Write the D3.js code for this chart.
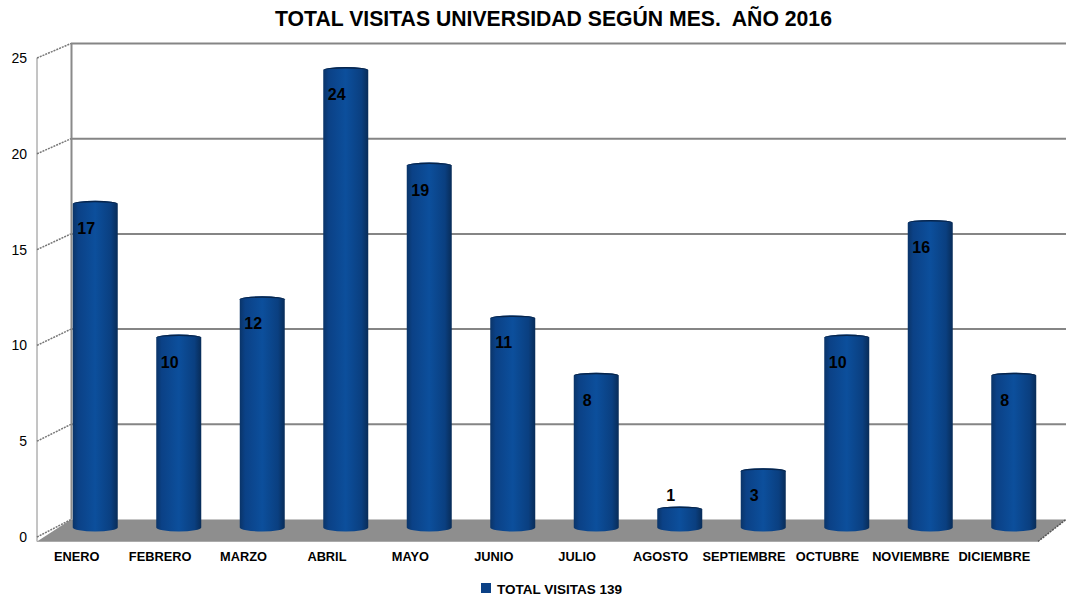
<!DOCTYPE html>
<html>
<head>
<meta charset="utf-8">
<script src="https://cdn.jsdelivr.net/npm/d3@7"></script>
<style>
  html, body { margin: 0; padding: 0; background: #fff; }
  svg { display: block; }
  text { font-family: "Liberation Sans", Arial, sans-serif; fill: #000; }
</style>
</head>
<body>
<div id="chart"></div>
<script>
var months = ["ENERO", "FEBRERO", "MARZO", "ABRIL", "MAYO", "JUNIO", "JULIO", "AGOSTO", "SEPTIEMBRE", "OCTUBRE", "NOVIEMBRE", "DICIEMBRE"];
var visitas = [17, 10, 12, 24, 19, 11, 8, 1, 3, 10, 16, 8];
var yTicks = [0, 5, 10, 15, 20, 25];
var titleText = "TOTAL VISITAS UNIVERSIDAD SEGÚN MES.  AÑO 2016";
var legendText = "TOTAL VISITAS 139";

var width = 1066;
var height = 600;

var svg = d3.select("#chart").append("svg")
    .attr("width", width)
    .attr("height", height);

// back wall, front edge and the bars each sit on their own plane
var yBack = d3.scaleLinear().domain([0, 25]).range([519.5, 43.5]);
var yFront = d3.scaleLinear().domain([0, 25]).range([537, 58]);
var yBar = d3.scaleLinear().domain([0, 25]).range([527.5, 50]);

var xBar = d3.scaleBand().domain(months).range([53.5, 1055.5]);
var xLabel = d3.scaleBand().domain(months).range([35, 1036]);

var grad = svg.append("defs").append("linearGradient")
    .attr("id", "cyl")
    .attr("x1", "0").attr("x2", "1").attr("y1", "0").attr("y2", "0");
grad.append("stop").attr("offset", "0").attr("stop-color", "#0a3468");
grad.append("stop").attr("offset", "0.12").attr("stop-color", "#0b4186");
grad.append("stop").attr("offset", "0.5").attr("stop-color", "#0c4f9c");
grad.append("stop").attr("offset", "0.85").attr("stop-color", "#0a3f80");
grad.append("stop").attr("offset", "1").attr("stop-color", "#082c58");

// floor
svg.append("polygon")
    .attr("points", [[37, 541.5], [71, 519.5], [1066, 519.5], [1038, 541.5]].join(" "))
    .style("fill", "#8e8e8e");

// grid on back wall
svg.selectAll(".grid")
    .data(yTicks.filter(function(d) { return d > 0; }))
    .enter().append("line")
    .attr("class", "grid")
    .attr("x1", 71).attr("x2", width)
    .attr("y1", function(d) { return yBack(d); })
    .attr("y2", function(d) { return yBack(d); })
    .style("stroke", "#858585")
    .style("stroke-width", 2);

// back wall left edge
svg.append("line")
    .attr("x1", 71.5).attr("x2", 71.5)
    .attr("y1", yBack(25)).attr("y2", yBack(0))
    .style("stroke", "#8a8a8a")
    .style("stroke-width", 2);

// front axis line
svg.append("line")
    .attr("x1", 37).attr("x2", 37)
    .attr("y1", yFront(25)).attr("y2", 541.5)
    .style("stroke", "#8a8a8a")
    .style("stroke-width", 1);

// diagonal ticks
svg.selectAll(".diag")
    .data(yTicks)
    .enter().append("line")
    .attr("class", "diag")
    .attr("x1", 37).attr("x2", 71)
    .attr("y1", function(d) { return yFront(d); })
    .attr("y2", function(d) { return yBack(d); })
    .style("stroke", "#777")
    .style("stroke-width", 1.5)
    .style("stroke-dasharray", "2,1");

svg.append("line")
    .attr("x1", 1038).attr("x2", 1066)
    .attr("y1", 541.5).attr("y2", 519.5)
    .style("stroke", "#555")
    .style("stroke-width", 1.5)
    .style("stroke-dasharray", "2,1");

svg.append("line")
    .attr("x1", 37).attr("x2", 1038)
    .attr("y1", 541.5).attr("y2", 541.5)
    .style("stroke", "#aaa")
    .style("stroke-width", 1);

// y labels
svg.selectAll(".ytick")
    .data(yTicks)
    .enter().append("text")
    .attr("class", "ytick")
    .attr("x", 27)
    .attr("y", function(d) { return yFront(d) + 5; })
    .attr("text-anchor", "end")
    .attr("font-size", "14px")
    .text(function(d) { return d; });

// cylinders
var capRy = 3;
var bw = 45;
var bars = svg.selectAll(".bar")
    .data(visitas)
    .enter().append("g")
    .attr("class", "bar")
    .attr("transform", function(d, i) {
        return "translate(" + (xBar(months[i]) + xBar.bandwidth() / 2 - bw / 2) + ",0)";
    });

bars.append("path")
    .attr("d", function(d) {
        var top = yBar(d);
        var base = yBar(0);
        return "M0," + (top + 1) +
            "A" + (bw / 2) + "," + capRy + " 0 0 1 " + bw + "," + (top + 1) +
            "L" + bw + "," + base +
            "A" + (bw / 2) + "," + (capRy + 1) + " 0 0 1 0," + base + "Z";
    })
    .style("fill", "url(#cyl)");

// dark top cap
bars.append("path")
    .attr("d", function(d) {
        var top = yBar(d) + 1;
        return "M0," + top +
            "A" + (bw / 2) + "," + capRy + " 0 0 1 " + bw + "," + top +
            "A" + (bw / 2) + "," + (capRy - 1.5) + " 0 0 0 0," + top + "Z";
    })
    .style("fill", "#07244a");

// value labels
bars.append("text")
    .attr("x", bw / 2 - 9)
    .attr("y", function(d) { return d < 2 ? yBar(d) - 7 : yBar(d) + 31; })
    .attr("text-anchor", "middle")
    .attr("font-size", "16px")
    .attr("font-weight", "bold")
    .text(function(d) { return d; });

// month labels
svg.selectAll(".xlab")
    .data(months)
    .enter().append("text")
    .attr("class", "xlab")
    .attr("x", function(d) { return xLabel(d) + xLabel.bandwidth() / 2; })
    .attr("y", 561)
    .attr("text-anchor", "middle")
    .attr("font-size", "12.8px")
    .attr("font-weight", "bold")
    .text(function(d) { return d; });

// title
svg.append("text")
    .attr("x", 553.5)
    .attr("y", 26)
    .attr("text-anchor", "middle")
    .attr("font-size", "21.2px")
    .attr("font-weight", "bold")
    .style("white-space", "pre")
    .text(titleText);

// legend
svg.append("rect")
    .attr("x", 481).attr("y", 583)
    .attr("width", 10).attr("height", 10)
    .style("fill", "#0b4186");
svg.append("text")
    .attr("x", 497).attr("y", 594)
    .attr("font-size", "13.5px")
    .attr("font-weight", "bold")
    .text(legendText);
</script>
</body>
</html>
